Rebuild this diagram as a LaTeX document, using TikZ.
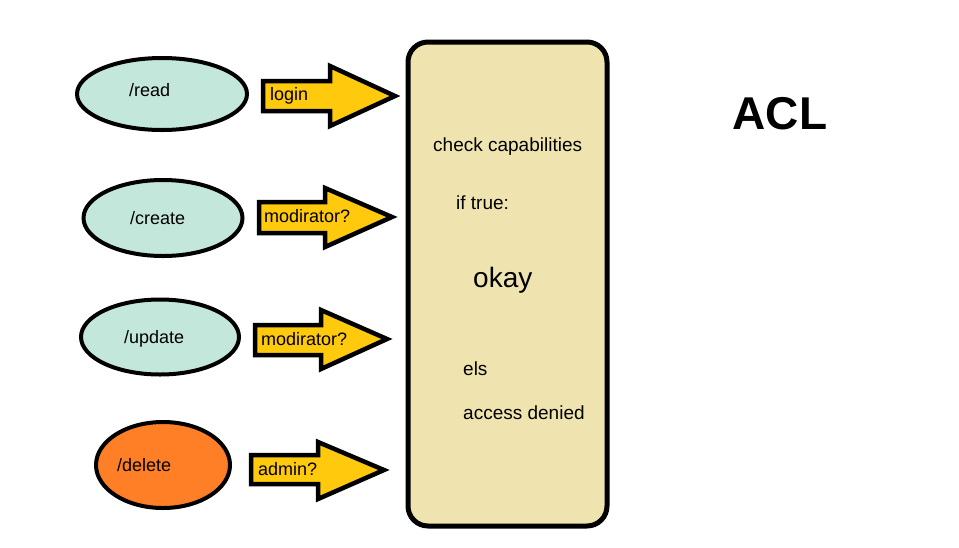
\documentclass[tikz,border=0pt]{standalone}
\usepackage{fontspec}
\setmainfont{Liberation Sans}
\usetikzlibrary{shapes.geometric}
\definecolor{teal0}{RGB}{195,231,219}
\definecolor{orange0}{RGB}{255,127,39}
\definecolor{yellow0}{RGB}{255,201,14}
\definecolor{tan0}{RGB}{239,228,176}
\tikzset{
  ell/.style={ellipse,draw=black,line width=4pt,inner sep=0pt},
  blk/.style={draw=black,line width=4.5pt,fill=yellow0,line join=miter},
  lbl/.style={anchor=mid west,inner sep=0pt,font=\fontsize{18}{20}\selectfont},
  btxt/.style={anchor=mid west,inner sep=0pt,font=\fontsize{19}{21}\selectfont},
}
\begin{document}
\begin{tikzpicture}[x=1pt,y=-1pt]
\useasboundingbox (0,0) rectangle (959,547);
% ellipses
\node[ell,fill=teal0,minimum width=170pt,minimum height=72pt] (e1) at (162,94) {};
\node[ell,fill=teal0,minimum width=159pt,minimum height=76pt] (e2) at (163,218) {};
\node[ell,fill=teal0,minimum width=158pt,minimum height=75pt] (e3) at (160,337) {};
\node[ell,fill=orange0,minimum width=134pt,minimum height=86pt] (e4) at (163,465) {};
\node[lbl] (t1) at (129,94) {/read};
\node[lbl] (t2) at (130,222) {/create};
\node[lbl] (t3) at (124,341) {/update};
\node[lbl] (t4) at (117,469) {/delete};
% block arrows
\draw[blk] (263,81) -- (330,81) -- (330,66) -- (395,96) -- (330,126) -- (330,111) -- (263,111) -- cycle;
\draw[blk] (259,202) -- (325,202) -- (325,188) -- (392,217) -- (325,247) -- (325,233) -- (259,233) -- cycle;
\draw[blk] (255,325) -- (321,325) -- (321,310) -- (387,339) -- (321,369) -- (321,355) -- (255,355) -- cycle;
\draw[blk] (251,455) -- (318,455) -- (318,442) -- (384,470) -- (318,499) -- (318,484) -- (251,484) -- cycle;
\node[lbl] (a1) at (270,98) {login};
\node[lbl] (a2) at (264,220) {modirator?};
\node[lbl] (a3) at (261,343) {modirator?};
\node[lbl] (a4) at (258,473) {admin?};
% box
\draw[line width=5pt,fill=tan0,rounded corners=20pt] (408,42) rectangle (607,526);
\node[btxt] (b1) at (433,149) {check capabilities};
\node[btxt] (b2) at (456,207) {if true:};
\node[anchor=mid west,inner sep=0pt,font=\fontsize{28}{30}\selectfont] (b3) at (473,285) {okay};
\node[btxt] (b4) at (463,373) {els};
\node[btxt] (b5) at (463,417) {access denied};
% title
\node[font=\fontsize{46}{50}\selectfont\bfseries] (acl) at (780,114) {ACL};
\end{tikzpicture}
\end{document}
